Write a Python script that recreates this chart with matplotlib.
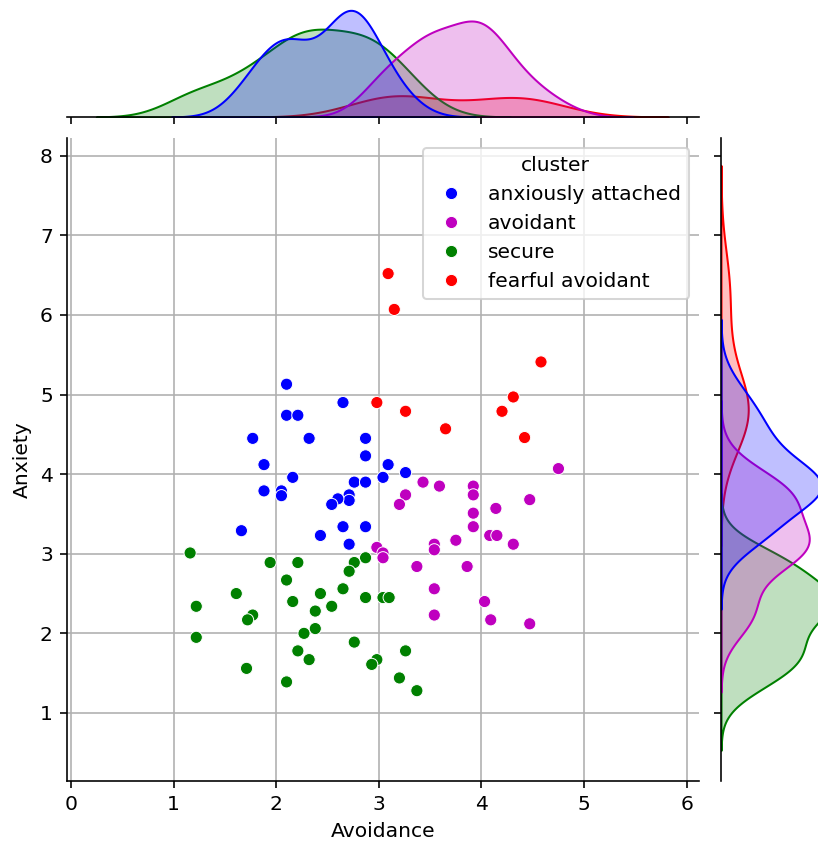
import pandas as pd
import matplotlib
matplotlib.use("Agg")
import matplotlib.pyplot as plt
import seaborn as sns

# avoidance / anxiety scores per cluster
anx_avoid = [2.10, 2.65, 2.10, 2.21, 1.77, 2.32, 2.87, 2.87, 1.88, 3.09,
             2.16, 3.26, 3.04, 2.76, 2.87, 1.88, 2.05, 2.05, 2.71, 2.71,
             2.60, 2.54, 1.66, 2.43, 2.65, 2.87, 2.71]
anx_anx = [5.13, 4.90, 4.74, 4.74, 4.45, 4.45, 4.45, 4.23, 4.12, 4.12,
           3.96, 4.02, 3.96, 3.90, 3.90, 3.79, 3.79, 3.73, 3.74, 3.67,
           3.69, 3.62, 3.29, 3.23, 3.34, 3.34, 3.12]

avo_avoid = [4.75, 3.43, 3.59, 3.92, 3.92, 3.26, 3.20, 4.47, 4.14, 3.92,
             3.92, 4.08, 4.15, 3.75, 4.31, 3.54, 3.54, 2.98, 3.04, 3.04,
             3.37, 3.86, 3.54, 4.03, 3.54, 4.09, 4.47]
avo_anx = [4.07, 3.90, 3.85, 3.85, 3.74, 3.74, 3.62, 3.68, 3.57, 3.51,
           3.34, 3.23, 3.23, 3.17, 3.12, 3.12, 3.05, 3.08, 3.01, 2.95,
           2.84, 2.84, 2.56, 2.40, 2.23, 2.17, 2.12]

sec_avoid = [1.16, 1.94, 2.21, 2.87, 2.76, 2.71, 2.10, 2.65, 2.43, 1.61,
             2.87, 3.04, 3.10, 2.16, 2.54, 2.38, 1.22, 1.77, 1.72, 2.38,
             2.27, 1.22, 2.76, 2.21, 3.26, 2.32, 2.98, 2.93, 1.71, 3.20,
             2.10, 3.37]
sec_anx = [3.01, 2.89, 2.89, 2.95, 2.89, 2.78, 2.67, 2.56, 2.50, 2.50,
           2.45, 2.45, 2.45, 2.40, 2.34, 2.28, 2.34, 2.23, 2.17, 2.06,
           2.00, 1.95, 1.89, 1.78, 1.78, 1.67, 1.67, 1.61, 1.56, 1.44,
           1.39, 1.28]

fear_avoid = [3.09, 3.15, 4.58, 2.98, 4.31, 3.26, 4.20, 3.65, 4.42]
fear_anx = [6.52, 6.07, 5.41, 4.90, 4.97, 4.79, 4.79, 4.57, 4.46]

clusters = ["anxiously attached", "avoidant", "secure", "fearful avoidant"]
colors = {"anxiously attached": "blue", "avoidant": "m",
          "secure": "g", "fearful avoidant": "r"}

df = pd.concat([
    pd.DataFrame({"Avoidance": anx_avoid, "Anxiety": anx_anx, "cluster": clusters[0]}),
    pd.DataFrame({"Avoidance": avo_avoid, "Anxiety": avo_anx, "cluster": clusters[1]}),
    pd.DataFrame({"Avoidance": sec_avoid, "Anxiety": sec_anx, "cluster": clusters[2]}),
    pd.DataFrame({"Avoidance": fear_avoid, "Anxiety": fear_anx, "cluster": clusters[3]}),
], ignore_index=True)

DPI = 146
g = sns.jointplot(data=df, x="Avoidance", y="Anxiety", hue="cluster",
                  hue_order=clusters, palette=colors, height=6)

W, H = 818, 841
fig = g.figure
fig.set_dpi(DPI)
fig.set_size_inches(W / DPI, H / DPI)

# place axes to match the reference layout (pixels)
g.ax_joint.set_position([67 / W, 60 / H, 632 / W, 643.5 / H])
g.ax_marg_x.set_position([67 / W, 724 / H, 632 / W, 112 / H])
g.ax_marg_y.set_position([721 / W, 60 / H, 117 / W, 643.5 / H])

g.ax_joint.set_xlim(-0.04, 6.12)
g.ax_joint.set_ylim(0.145, 8.23)
g.ax_joint.grid(True)
g.ax_joint.set_axisbelow(True)

fig.savefig("out.png", dpi=DPI)
